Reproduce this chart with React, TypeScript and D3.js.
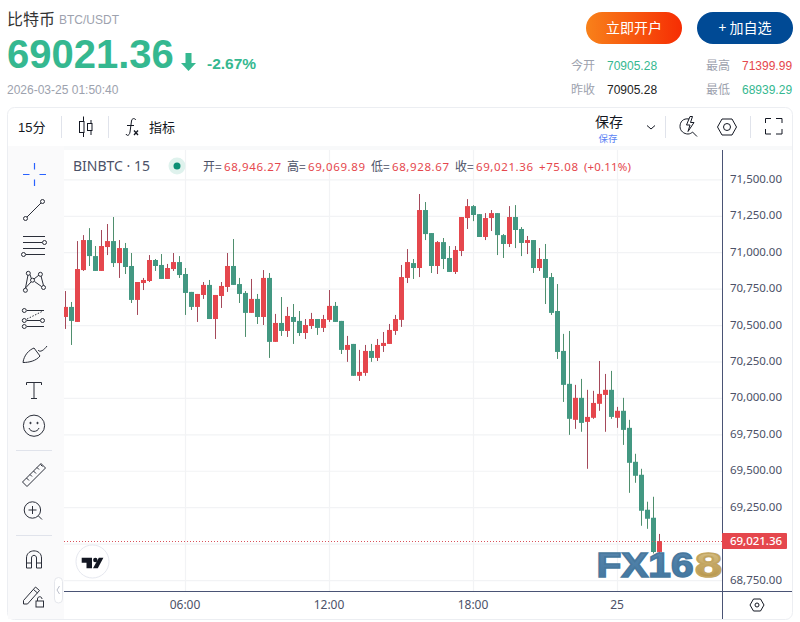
import React from 'react';
import * as d3 from 'd3';

const opens = [70559,70628,70525,70881,71087,70977,70875,71039,71080,70929,71032,70909,70676,70792,70806,70950,70916,70820,70888,70936,70854,70731,70628,70710,70779,70545,70703,70765,70909,70785,70724,70587,70683,70559,70827,70388,70518,70463,70559,70532,70449,70497,70545,70484,70539,70635,70532,70333,70374,70155,70175,70326,70278,70360,70374,70463,70539,70827,70929,70895,71293,71135,70909,71073,70964,70868,71012,71238,71320,71265,71108,71238,71272,71121,71060,71245,71163,71067,71087,70895,70957,70833,70600,70326,70100,69853,70004,69839,69867,69963,70024,70059,69867,69915,69798,69565,69476,69236,69181,68946.27];
const highs = [70737,70662,71080,71121,71169,71046,71156,71197,71245,71087,71067,70998,70799,70827,70984,70957,70991,70923,70998,70977,70895,70731,70717,70799,70813,70710,70799,70998,71094,70827,70737,70820,70717,70881,70861,70580,70696,70628,70648,70600,70545,70587,70545,70573,70744,70662,70532,70429,70374,70333,70367,70374,70408,70456,70511,70573,70916,71025,70957,71403,71348,71135,71080,71101,71046,71046,71245,71368,71327,71265,71272,71293,71272,71128,71320,71327,71176,71115,71087,71032,71060,70861,70785,70443,70463,70093,70134,70059,70052,70257,70168,70189,69942,70004,69853,69620,69517,69291,69325,69069.89];
const lows = [70477,70367,70525,70875,70909,70875,70875,70984,70902,70827,70854,70655,70573,70744,70799,70875,70820,70820,70875,70827,70573,70607,70525,70683,70545,70408,70621,70731,70779,70655,70422,70587,70511,70504,70278,70388,70429,70422,70374,70429,70408,70477,70436,70456,70525,70525,70305,70251,70155,70120,70155,70251,70257,70319,70374,70436,70491,70792,70820,70833,71087,70861,70854,70888,70868,70854,70977,71163,71217,71108,71087,71149,70984,70964,71039,71032,70977,70991,70861,70875,70648,70573,70271,69976,69750,69791,69771,69517,69860,69915,69771,69860,69798,69681,69352,69421,69126,69105,68936,68928.67];
const closes = [70628,70532,70888,71087,70977,70875,71046,71080,70929,71032,70902,70676,70799,70813,70950,70909,70820,70895,70936,70847,70724,70628,70717,70779,70545,70710,70772,70909,70779,70717,70587,70683,70559,70827,70388,70518,70463,70566,70525,70449,70504,70545,70484,70545,70635,70525,70333,70367,70155,70182,70326,70278,70367,70381,70470,70545,70833,70936,70895,71293,71128,70909,71073,70957,70868,71019,71245,71320,71259,71108,71238,71272,71121,71060,71245,71156,71067,71087,70895,70957,70827,70587,70319,70093,69860,70004,69832,69873,69969,70031,70059,69873,69915,69784,69558,69469,69229,69174,68946,69021.36];

const priceTicks = [71500,71250,71000,70750,70500,70250,70000,69750,69500,69250,69000,68750];
const priceTickLabels = ['71,500.00','71,250.00','71,000.00','70,750.00','70,500.00','70,250.00','70,000.00','69,750.00','69,500.00','69,250.00','','68,750.00'];
const timeTickIndex = [20,44,68,92];
const timeTickLabels = ['06:00','12:00','18:00','25'];
const lastPrice = 69021.36;
const legendLabels = ['开=','高=','低=','收='];
const legendValues = ['68,946.27','69,069.89','68,928.67','69,021.36'];
const legendChange = '+75.08';
const legendPct = '(+0.11%)';

const UP = '#e5474d';
const DOWN = '#439882';
const UP_WICK = '#a5495a';
const DOWN_WICK = '#4f8f6e';
const GRID = '#f2f3f5';
const AXIS = '#4a5475';
const TXT = '#4c5167';
const ICON = '#2a2e39';
const UIFONT = "'Liberation Sans', 'Noto Sans CJK SC', sans-serif";
const CJK = "'Noto Sans CJK SC', sans-serif";
const CHARTFONT = "'Noto Sans', 'Noto Sans CJK SC', sans-serif";

const y = d3.scaleLinear().domain([71250, lastPrice]).range([216.3, 541]);
const x = d3.scaleLinear().domain([0, 99]).range([65.5, 659.5]);

const Ic = ({ children, ...p }: any) => (
  <g fill="none" stroke={ICON} strokeWidth={1} {...p}>{children}</g>
);

const SideIcons = () => (
  <g>
    <g stroke="#2962ff" strokeWidth={1.2} fill="none">
      <path d="M23 174.5H29.5M39.5 174.5H46M34.5 163V169.5M34.5 179.5V186" />
    </g>
    <Ic>
      <path d="M27 217L41 203" />
      <circle cx={42.5} cy={201.5} r={2} /><circle cx={25.5} cy={218.5} r={2} />
    </Ic>
    <Ic>
      <path d="M23 236.5H45M23 242.5H42M23 248.5H45M26 254.5H45" />
      <circle cx={44.5} cy={242.5} r={2} /><circle cx={23.5} cy={254.5} r={2} />
    </Ic>
    <Ic>
      <path d="M28 275L25.5 288M30 274.5L31.5 279M34 279L39 275M41 276L43.5 285.5M25.5 288L31 282M34.5 281.5L41.5 286.5" />
      <circle cx={28.3} cy={273.3} r={2} /><circle cx={40.4} cy={274.3} r={2} />
      <circle cx={32.5} cy={280.2} r={2} /><circle cx={25.4} cy={290.3} r={2} /><circle cx={43.5} cy={287.5} r={2} />
    </Ic>
    <Ic>
      <path d="M27 310.5H44M27 326.5H44M27 320.5H40" />
      <path d="M27 319L43 311" strokeDasharray="1.5 1.5" />
      <circle cx={24.3} cy={310.5} r={2} /><circle cx={24.3} cy={320.5} r={2} />
      <circle cx={42.5} cy={320.5} r={2} /><circle cx={24.3} cy={326.5} r={2} />
    </Ic>
    <Ic>
      <path d="M23 362.5C24 355 29 350 34 348L40 356C36 361 29 362.5 23 362.5ZM38 350C40 353 44 350 47 346" />
    </Ic>
    <Ic>
      <path d="M26.5 385V382.5H41.5V385M34 382.5V398.5M31 398.5H37" />
    </Ic>
    <Ic>
      <circle cx={34} cy={425.7} r={10.6} />
      <path d="M29 428C30.5 432.5 37.5 432.5 39 428" />
      <circle cx={30.5} cy={423} r={0.7} fill={ICON} /><circle cx={37.5} cy={423} r={0.7} fill={ICON} />
    </Ic>
    <path d="M16 450.5H52M16 535.5H52" stroke="#e0e3eb" />
    <Ic>
      <path d="M22.5 482L41 463.5L45.5 468L27 486.5Z" />
      <path d="M26.5 478L29 480.5M30 474.5L32 476.5M33.5 471L36 473.5M37 467.5L39 469.5M40.5 464.5L42.5 466.5" />
    </Ic>
    <Ic>
      <circle cx={32.4} cy={510} r={8.2} />
      <path d="M28.5 510H36.5M32.5 506V514M38.5 516L42 519.5" />
    </Ic>
    <Ic>
      <path d="M26.5 568V558C26.5 548.5 41.5 548.5 41.5 558V568H36.5V558C36.5 554.5 31.5 554.5 31.5 558V568ZM26.5 563H31.5M36.5 563H41.5" />
    </Ic>
    <Ic>
      <path d="M23.5 600.5L35.5 587L39.5 590.5L27.5 604H23.5ZM33.5 589.5L37.5 593" />
      <rect x={36} y={601} width={7.5} height={6} />
      <path d="M37.5 601V599C37.5 596 42 596 42 599" />
    </Ic>
    <rect x={54.5} y={577.5} width={8} height={25.5} rx={4} fill="#fff" stroke="#e5e7ec" />
    <path d="M59.5 586L57 590L59.5 594" stroke="#b9bdc9" fill="none" />
  </g>
);

const TopIcons = () => (
  <g>
    <Ic stroke="#131722">
      <path d="M83.5 116.5V137M91 120V135" />
      <rect x={79.5} y={121.5} width={4.5} height={11} fill="#fff" />
      <rect x={87.5} y={123.5} width={4.5} height={7} fill="#fff" />
    </Ic>
    <g fill="none" stroke="#131722">
      <path d="M126 134C127 136.5 129.5 135.5 130 132L131.5 121C132 118 134.5 118 136 120" />
      <path d="M127 125.5H134" />
      <path d="M134 130.5L138 135M138 130.5L134 135" strokeWidth={1.3} />
    </g>
    <Ic stroke="#131722"><path d="M647 125.5L651 129L655 125.5" /></Ic>
    <Ic stroke="#131722">
      <path d="M689 119C683 118 680 122 680 126.5C680 131 684 134 688 134C690 134 691.5 133 692.5 132M692.5 132L697 136.5" />
      <path d="M690 116.5L686.5 125H690L688 131.5L694 122.5H690.5L692.5 116.5Z" />
    </Ic>
    <Ic stroke="#131722">
      <path d="M717.5 127L722 119H732L736.5 127L732 135H722Z" />
      <circle cx={727} cy={127} r={3.5} />
    </Ic>
    <Ic stroke="#131722">
      <path d="M765.5 123V118.5H771M776 118.5H782V123M782 129V134H776M771 134H765.5V129" />
    </Ic>
  </g>
);

export default function App() {
  const chartTop = 150;
  const chartBottom = 591;
  const chartL = 64;
  const chartR = 722;
  return (
    <svg width={800} height={622} style={{ position: 'absolute', left: 0, top: 0, background: '#fff' }}>
      <defs>
        <linearGradient id="btnO" x1="0" x2="1" y1="0" y2="0">
          <stop offset="0" stopColor="#f8811a" /><stop offset="1" stopColor="#f62d03" />
        </linearGradient>
        <linearGradient id="wmBlue" x1="0" x2="0" y1="0" y2="1">
          <stop offset="0" stopColor="#5b87ad" /><stop offset="1" stopColor="#3f76a0" />
        </linearGradient>
        <linearGradient id="wmGold" x1="0" x2="0" y1="0" y2="1">
          <stop offset="0" stopColor="#dcc690" /><stop offset="1" stopColor="#b08d3e" />
        </linearGradient>
        <clipPath id="plot"><rect x={chartL} y={chartTop} width={chartR - chartL} height={chartBottom - chartTop} /></clipPath>
      </defs>

      {/* header */}
      <text x={7} y={25} fontFamily={CJK} fontSize={16} fill="#333">比特币</text>
      <text x={59} y={24} fontFamily={UIFONT} fontSize={12} fill="#9da2ae">BTC/USDT</text>
      <text x={7} y={68} fontFamily={UIFONT} fontSize={40} fontWeight={700} fill="#35b890">69021.36</text>
      <path d="M185.5 53H191.5V63H196L188.5 71L181 63H185.5Z" fill="#35b890" />
      <text x={207} y={69} fontFamily={UIFONT} fontSize={15.5} fontWeight={700} fill="#35b890">-2.67%</text>
      <text x={7} y={94} fontFamily={UIFONT} fontSize={12} fill="#9da2ae">2026-03-25 01:50:40</text>

      <rect x={586} y={12} width={96} height={32} rx={16} fill="url(#btnO)" />
      <text x={634} y={33} textAnchor="middle" fontFamily={CJK} fontSize={14} fill="#fff">立即开户</text>
      <rect x={697} y={12} width={96} height={32} rx={16} fill="#004a95" />
      <text x={745} y={33} textAnchor="middle" fontFamily={CJK} fontSize={14} fill="#fff">+ 加自选</text>

      <g fontFamily={CJK} fontSize={12} fill="#9da2ae">
        <text x={571} y={69.5}>今开</text><text x={571} y={94}>昨收</text>
        <text x={706} y={69.5}>最高</text><text x={706} y={94}>最低</text>
      </g>
      <g fontFamily={UIFONT} fontSize={12}>
        <text x={607} y={69.5} fill="#35b890">70905.28</text>
        <text x={607} y={94} fill="#222">70905.28</text>
        <text x={742} y={69.5} fill="#e5474d">71399.99</text>
        <text x={742} y={94} fill="#35b890">68939.29</text>
      </g>

      {/* panel */}
      <rect x={7.5} y={107.5} width={785} height={512} rx={7} fill="#fff" stroke="#eceef2" />
      <rect x={8} y={146} width={784} height={4} fill="#f8f9fa" />
      <rect x={8} y={146} width={56} height={473} fill="#fafafb" />

      {/* toolbar */}
      <text x={18} y={132} fontFamily={UIFONT} fontSize={13} fill="#131722">15<tspan fontFamily={CJK}>分</tspan></text>
      <path d="M61.5 116V138M108.5 116V138M665.5 116V138M750.5 116V138" stroke="#e0e3eb" />
      <text x={149} y={132} fontFamily={CJK} fontSize={13} fill="#131722">指标</text>
      <text x={595} y={127} fontFamily={CJK} fontSize={14} fill="#131722">保存</text>
      <text x={598.5} y={142} fontFamily={CJK} fontSize={9.5} fill="#5b83f5">保存</text>
      <TopIcons />
      <SideIcons />

      {/* grid */}
      <g clipPath="url(#plot)">
        {priceTicks.map((p) => (
          <line key={p} x1={chartL} x2={chartR} y1={y(p)} y2={y(p)} stroke={GRID} strokeWidth={1.2} />
        ))}
        {timeTickIndex.map((i) => (
          <line key={i} x1={x(i)} x2={x(i)} y1={chartTop} y2={chartBottom} stroke={GRID} strokeWidth={1.2} />
        ))}
        {/* candles */}
        {opens.map((o, i) => {
          const c = closes[i];
          const up = c >= o;
          const cx = Math.round(x(i) - 0.5);
          const top = y(Math.max(o, c));
          const bot = y(Math.min(o, c));
          return (
            <g key={i}>
              <rect x={cx} y={y(highs[i])} width={1} height={y(lows[i]) - y(highs[i])} fill={up ? UP_WICK : DOWN_WICK} />
              <rect x={cx - 2} y={top} width={5} height={Math.max(1, bot - top)} fill={up ? UP : DOWN} />
            </g>
          );
        })}
        <line x1={chartL} x2={chartR} y1={Math.round(y(lastPrice)) + 0.5} y2={Math.round(y(lastPrice)) + 0.5} stroke="#d9535c" strokeDasharray="1 2" />
      </g>

      {/* axes */}
      <path d="M722.5 150V619" stroke={AXIS} />
      <path d="M64 591.5H792" stroke={AXIS} />
      <g fontFamily={CHARTFONT} fontSize={11.5} fill={TXT}>
        {priceTicks.map((p, i) => priceTickLabels[i] ? (
          <text key={p} x={730} y={y(p) + 3} textLength={52}>{priceTickLabels[i]}</text>
        ) : null)}
      </g>
      <g fontFamily={CHARTFONT} fontSize={12} fill={TXT}>
        {timeTickIndex.map((idx, i) => (
          <text key={idx} x={x(idx) - 0.5} y={609} textAnchor="middle">{timeTickLabels[i]}</text>
        ))}
      </g>
      <g fill="none" stroke="#131722">
        <path d="M750 605L753.5 599H760.5L764 605L760.5 611H753.5Z" />
        <circle cx={757} cy={605} r={2} />
      </g>

      <rect x={722} y={533} width={65} height={16} rx={1} fill="#e5474d" />
      <text x={730} y={545} fontFamily={CHARTFONT} fontSize={11.5} fontWeight={500} fill="#fff" textLength={52}>69,021.36</text>

      {/* legend */}
      <text x={73} y={171} fontFamily={CHARTFONT} fontSize={14} fill={TXT}>BINBTC · 15</text>
      <circle cx={177} cy={166} r={8.5} fill="#dff2ed" />
      <circle cx={177} cy={166} r={3.5} fill="#0d8f75" />
      <g fontFamily={CHARTFONT} fontSize={11.5}>
        {legendLabels.map((lab, i) => (
          <g key={lab}>
            <text x={203 + 84 * i} y={171} fill={TXT} fontFamily={CJK} fontSize={12}>{lab}</text>
            <text x={224 + 84 * i} y={171} fill="#e5474d" textLength={57}>{legendValues[i]}</text>
          </g>
        ))}
        <text x={539} y={171} fill="#e5474d" textLength={39}>{legendChange}</text>
        <text x={584} y={171} fill="#e5474d" textLength={47}>{legendPct}</text>
      </g>

      {/* TV logo */}
      <circle cx={92.5} cy={561.5} r={16.5} fill="#fff" stroke="#e6e8ef" />
      <path d="M81.7 557.7H92V568.3H86.5V562.7H81.7ZM98.8 557.7H103.4L97.8 568.3H93Z" fill="#131722" />
      <circle cx={95.3} cy={560} r={2.2} fill="#131722" />

      {/* watermark */}
      <text x={596.5} y={577} fontFamily={UIFONT} fontSize={35} fontWeight={700} fill="url(#wmBlue)" stroke="#47789e" strokeWidth={1.6} textLength={97} lengthAdjust="spacingAndGlyphs">FX16</text>
      <text x={695} y={577} fontFamily={UIFONT} fontSize={35} fontWeight={700} fill="url(#wmGold)" stroke="#c2a561" strokeWidth={1.6} textLength={27} lengthAdjust="spacingAndGlyphs">8</text>
    </svg>
  );
}
